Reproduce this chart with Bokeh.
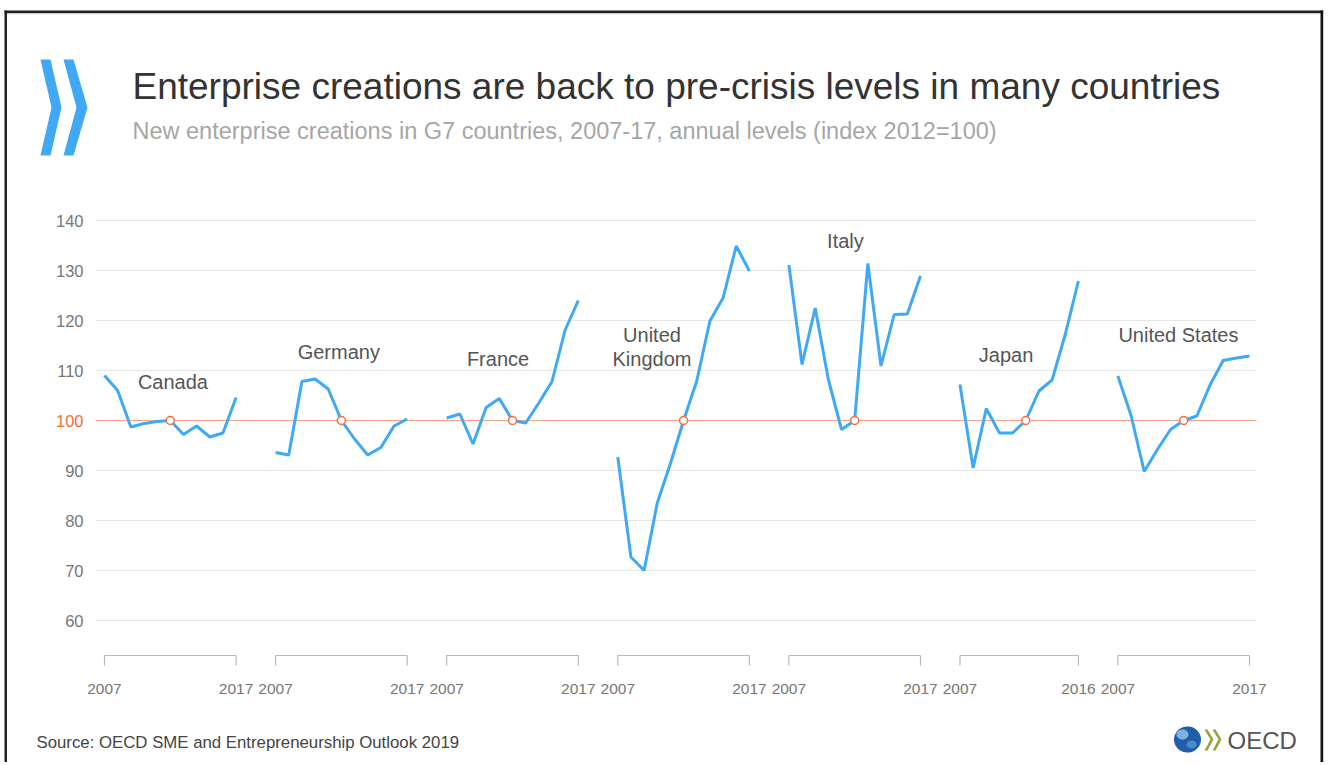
import numpy as np
from bokeh.plotting import figure
from bokeh.models import Range1d, FixedTicker, Label, PolyAnnotation, ColumnDataSource, LinearAxis
from bokeh.embed import file_html
from bokeh.resources import INLINE
from bokeh.core.properties import value

# ---------------- data ----------------
YEARS = [2007, 2008, 2009, 2010, 2011, 2012, 2013, 2014, 2015, 2016, 2017]
countries = ["Canada", "Germany", "France", "United Kingdom", "Italy", "Japan", "United States"]
canada = [109.0, 106.0, 98.7, 99.4, 99.8, 100.0, 97.2, 98.9, 96.7, 97.5, 104.6]
germany = [93.6, 93.1, 107.8, 108.3, 106.3, 100.0, 96.3, 93.1, 94.6, 98.9, 100.3]
france = [100.5, 101.3, 95.3, 102.6, 104.4, 100.0, 99.5, 103.5, 107.8, 118.1, 124.0]
united_kingdom = [92.7, 72.7, 70.0, 83.5, 91.4, 100.0, 107.9, 119.9, 124.5, 134.9, 129.9]
italy = [131.1, 111.2, 122.5, 108.2, 98.2, 100.0, 131.4, 110.9, 121.2, 121.3, 128.9]
japan = [107.2, 90.5, 102.4, 97.5, 97.5, 100.0, 105.9, 108.1, 117.2, 127.9]
united_states = [108.9, 101.0, 89.8, 94.2, 98.2, 100.0, 100.9, 107.1, 112.0, 112.5, 112.9]
series = [canada, germany, france, united_kingdom, italy, japan, united_states]
y_ticks = [60, 70, 80, 90, 100, 110, 120, 130, 140]
BASE_YEAR = 2012
BASE_VALUE = 100

TITLE = "Enterprise creations are back to pre-crisis levels in many countries"
SUBTITLE = "New enterprise creations in G7 countries, 2007-17, annual levels (index 2012=100)"
SOURCE = "Source: OECD SME and Entrepreneurship Outlook 2019"

# ---------------- layout ----------------
FONT = "Liberation Sans"
BLUE = "#3fa9f5"
ORANGE = "#f26d3d"
GAP = 2  # empty slots between countries

starts = []
pos = 0
for s in series:
    starts.append(pos)
    pos += len(s) + GAP
last_index = starts[-1] + len(series[-1]) - 1

W, H = 1325, 762
# screen mapping: index 0 at px 104, last index at px 1249; value 100 at py 420, 5 px / unit
UX = (1249 - 104) / last_index
X0 = -104 / UX
X1 = X0 + W / UX
Y1 = 100 + 420 / 5.0
Y0 = Y1 - H / 5.0


def px(xp):
    return X0 + xp / UX


def py(yp):
    return Y1 - yp / 5.0


GX0, GX1 = px(95), px(1256)      # grid extent
AX_Y = py(668)                    # x-axis location
BR_TOP, BR_BOT = py(655), py(665)  # brackets

p = figure(width=W, height=H, x_range=Range1d(X0, X1), y_range=Range1d(Y0, Y1),
           output_backend="svg", toolbar_location=None, min_border=0,
           x_axis_type=None, y_axis_type=None)
p.outline_line_color = None
p.background_fill_color = "white"
p.border_fill_color = "white"

# grid lines
gy = [t for t in y_ticks if t != BASE_VALUE]
p.segment(x0=[GX0] * len(gy), x1=[GX1] * len(gy), y0=gy, y1=gy,
          line_color="#e6e6e6", line_width=1.2)
p.segment(x0=[GX0], x1=[GX1], y0=[BASE_VALUE], y1=[BASE_VALUE],
          line_color="#f5a58a", line_width=1.2)

# y axis (gray labels) + orange base label
yax = LinearAxis(fixed_location=GX0, ticker=FixedTicker(ticks=y_ticks),
                 major_label_overrides={BASE_VALUE: ""})
yax2 = LinearAxis(fixed_location=GX0, ticker=FixedTicker(ticks=[BASE_VALUE]))
for ax, col in ((yax, "#777777"), (yax2, ORANGE)):
    ax.axis_line_color = None
    ax.major_tick_line_color = None
    ax.minor_tick_line_color = None
    ax.major_label_text_font = FONT
    ax.major_label_text_font_size = "16.5px"
    ax.major_label_text_color = col
    ax.major_label_standoff = 6
    p.add_layout(ax, "left")

# x axis: first / last year of each country
xt, xlab = [], {}
for st, s in zip(starts, series):
    yrs = YEARS[:len(s)]
    xt += [st, st + len(s) - 1]
    xlab[st] = str(yrs[0])
    xlab[st + len(s) - 1] = str(yrs[-1])
xax = LinearAxis(fixed_location=AX_Y, ticker=FixedTicker(ticks=xt), major_label_overrides=xlab)
xax.axis_line_color = None
xax.major_tick_line_color = None
xax.minor_tick_line_color = None
xax.major_label_text_font = FONT
xax.major_label_text_font_size = "15.5px"
xax.major_label_text_color = "#777777"
xax.major_label_standoff = 9
p.add_layout(xax, "below")

# brackets under each country
bx0, by0, bx1, by1 = [], [], [], []
for st, s in zip(starts, series):
    e = st + len(s) - 1
    bx0 += [st, st, e]
    bx1 += [e, st, e]
    by0 += [BR_TOP] * 3
    by1 += [BR_TOP, BR_BOT, BR_BOT]
p.segment(x0=bx0, y0=by0, x1=bx1, y1=by1, line_color="#b8b8b8", line_width=1.2)

# lines and base markers
bi = YEARS.index(BASE_YEAR)
for st, s in zip(starts, series):
    xs = list(range(st, st + len(s)))
    src = ColumnDataSource(dict(x=xs, y=s, year=YEARS[:len(s)]))
    p.line("x", "y", source=src, line_color=BLUE, line_width=3)
    p.scatter(x=[xs[bi]], y=[s[bi]], marker="circle", size=8, fill_color="white",
              line_color=ORANGE, line_width=1.5)

# country labels (offset from start, height)
label_pos = {
    "Canada": (5.2, 107.8),
    "Germany": (4.8, 113.8),
    "France": (3.9, 112.4),
    "Italy": (4.3, 136.0),
    "Japan": (3.5, 113.2),
    "United States": (4.6, 117.2),
}
lx, ly, lt = [], [], []
for name, st in zip(countries, starts):
    if name == "United Kingdom":
        lx += [st + 2.6, st + 2.6]
        ly += [117.2, 112.4]
        lt += ["United", "Kingdom"]
    else:
        dx, yy = label_pos[name]
        lx.append(st + dx)
        ly.append(yy)
        lt.append(name)
p.text(x=lx, y=ly, text=lt, text_font=value(FONT), text_font_size="20px",
       text_color="#555555", text_align="center", text_baseline="middle")


# ---------------- decorations (page px) ----------------
def poly(pts, color):
    p.add_layout(PolyAnnotation(xs=[px(a) for a, b in pts], ys=[py(b) for a, b in pts],
                                fill_color=color, fill_alpha=1, line_color=None))


# border (top, left, right)
poly([(4, 10), (1322.7, 10), (1322.7, 12.7), (4, 12.7)], "#222222")
poly([(4, 10), (6.5, 10), (6.5, 765), (4, 765)], "#222222")
poly([(1320, 10), (1322.7, 10), (1322.7, 765), (1320, 765)], "#111111")

# big chevrons
poly([(40, 59), (50, 59), (61, 107), (50, 155), (40, 155), (51, 107)], BLUE)
poly([(63, 59), (73, 59), (87, 107), (73, 155), (63, 155), (76, 107)], BLUE)


def label(xp, yp, text, size, color):
    p.add_layout(Label(x=px(xp), y=py(yp), text=text, text_baseline="middle",
                       text_font=FONT, text_font_size=size, text_color=color))


label(132, 86, TITLE, "37px", "#333333")
label(132, 130.5, SUBTITLE, "23.5px", "#a6a6a6")
label(36, 742, SOURCE, "16.8px", "#444444")

# OECD logo
ang = np.linspace(0, 2 * np.pi, 48)
poly([(1187 + 13.5 * np.cos(a), 739 + 13 * np.sin(a)) for a in ang], "#1f5ea8")
poly([(1182 + 6 * np.cos(a), 734 + 5 * np.sin(a)) for a in ang], "#7fb2e0")
poly([(1191 + 5 * np.cos(a), 744 + 4 * np.sin(a)) for a in ang], "#4d89c9")
poly([(1204, 729), (1207, 729), (1213, 739), (1207, 750), (1204, 750), (1210, 739)], "#8fa83a")
poly([(1212, 729), (1215, 729), (1221, 739), (1215, 750), (1212, 750), (1218, 739)], "#8fa83a")
label(1227, 740, "OECD", "24px", "#555555")

open("out.html", "w").write(file_html(p, INLINE))
